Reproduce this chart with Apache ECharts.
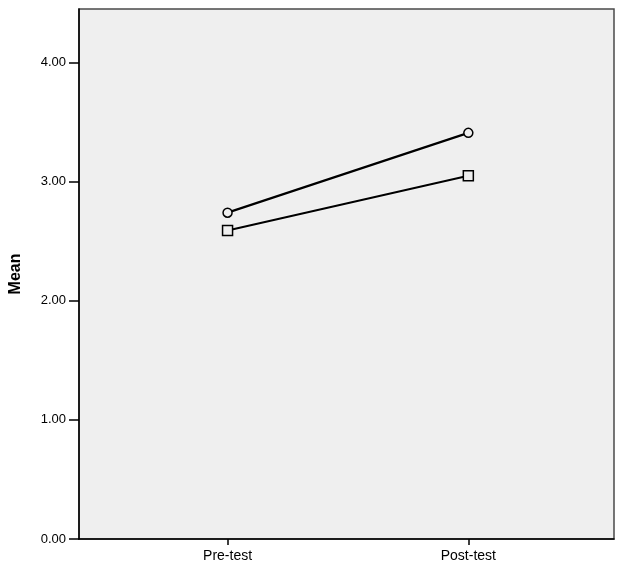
<!DOCTYPE html>
<html>
<head>
<meta charset="utf-8">
<script src="https://cdn.jsdelivr.net/npm/echarts@6/dist/echarts.min.js"></script>
<style>
html,body{margin:0;padding:0;background:#fff;}
#chart{width:624px;height:571px;}
</style>
</head>
<body>
<div id="chart"></div>
<script>
var categories = ['Pre-test', 'Post-test'];
var circleMeans = [2.74, 3.41];
var squareMeans = [2.59, 3.05];
var yTicks = [0, 1, 2, 3, 4];

function toPoints(values) {
    var pts = [];
    for (var i = 0; i < values.length; i++) {
        pts.push([i, values[i]]);
    }
    return pts;
}

var font = 'Liberation Sans, Arial, sans-serif';
var option = {
    animation: false,
    backgroundColor: '#ffffff',
    grid: {
        left: 74,
        right: 10,
        top: 9,
        bottom: 32,
        show: true,
        backgroundColor: '#efefef',
        borderColor: '#4a4a4a',
        borderWidth: 1.5
    },
    xAxis: {
        type: 'value',
        min: -0.617,
        max: 1.605,
        splitLine: {show: false},
        axisLine: {show: true, onZero: false, lineStyle: {color: '#000', width: 1.5}},
        axisTick: {show: true, length: 6, customValues: [0, 1], lineStyle: {color: '#000', width: 1.5}},
        axisLabel: {
            customValues: [0, 1],
            margin: 10,
            color: '#000',
            fontFamily: font,
            fontSize: 14,
            formatter: function (v) { return categories[Math.round(v)] || ''; }
        }
    },
    yAxis: {
        type: 'value',
        min: 0,
        max: 4.45,
        name: 'Mean',
        nameLocation: 'middle',
        nameGap: 55,
        nameTextStyle: {color: '#000', fontFamily: font, fontSize: 16, fontWeight: 'bold'},
        splitLine: {show: false},
        axisLine: {show: true, onZero: false, lineStyle: {color: '#000', width: 1.5}},
        axisTick: {show: true, length: 10, customValues: yTicks, lineStyle: {color: '#000', width: 1.5}},
        axisLabel: {
            customValues: yTicks,
            margin: 13,
            color: '#000',
            fontFamily: font,
            fontSize: 13,
            formatter: function (v) { return v.toFixed(2); }
        }
    },
    series: [
        {
            type: 'line',
            data: toPoints(circleMeans),
            symbol: 'circle',
            symbolSize: 9,
            itemStyle: {color: '#efefef', borderColor: '#000', borderWidth: 1.5},
            lineStyle: {color: '#000', width: 2.2, shadowColor: '#fff', shadowBlur: 2}
        },
        {
            type: 'line',
            data: toPoints(squareMeans),
            symbol: 'rect',
            symbolSize: 10,
            itemStyle: {color: '#efefef', borderColor: '#000', borderWidth: 1.5},
            lineStyle: {color: '#000', width: 2.2, shadowColor: '#fff', shadowBlur: 2}
        }
    ]
};

var chart = echarts.init(document.getElementById('chart'));
chart.setOption(option);
</script>
</body>
</html>
